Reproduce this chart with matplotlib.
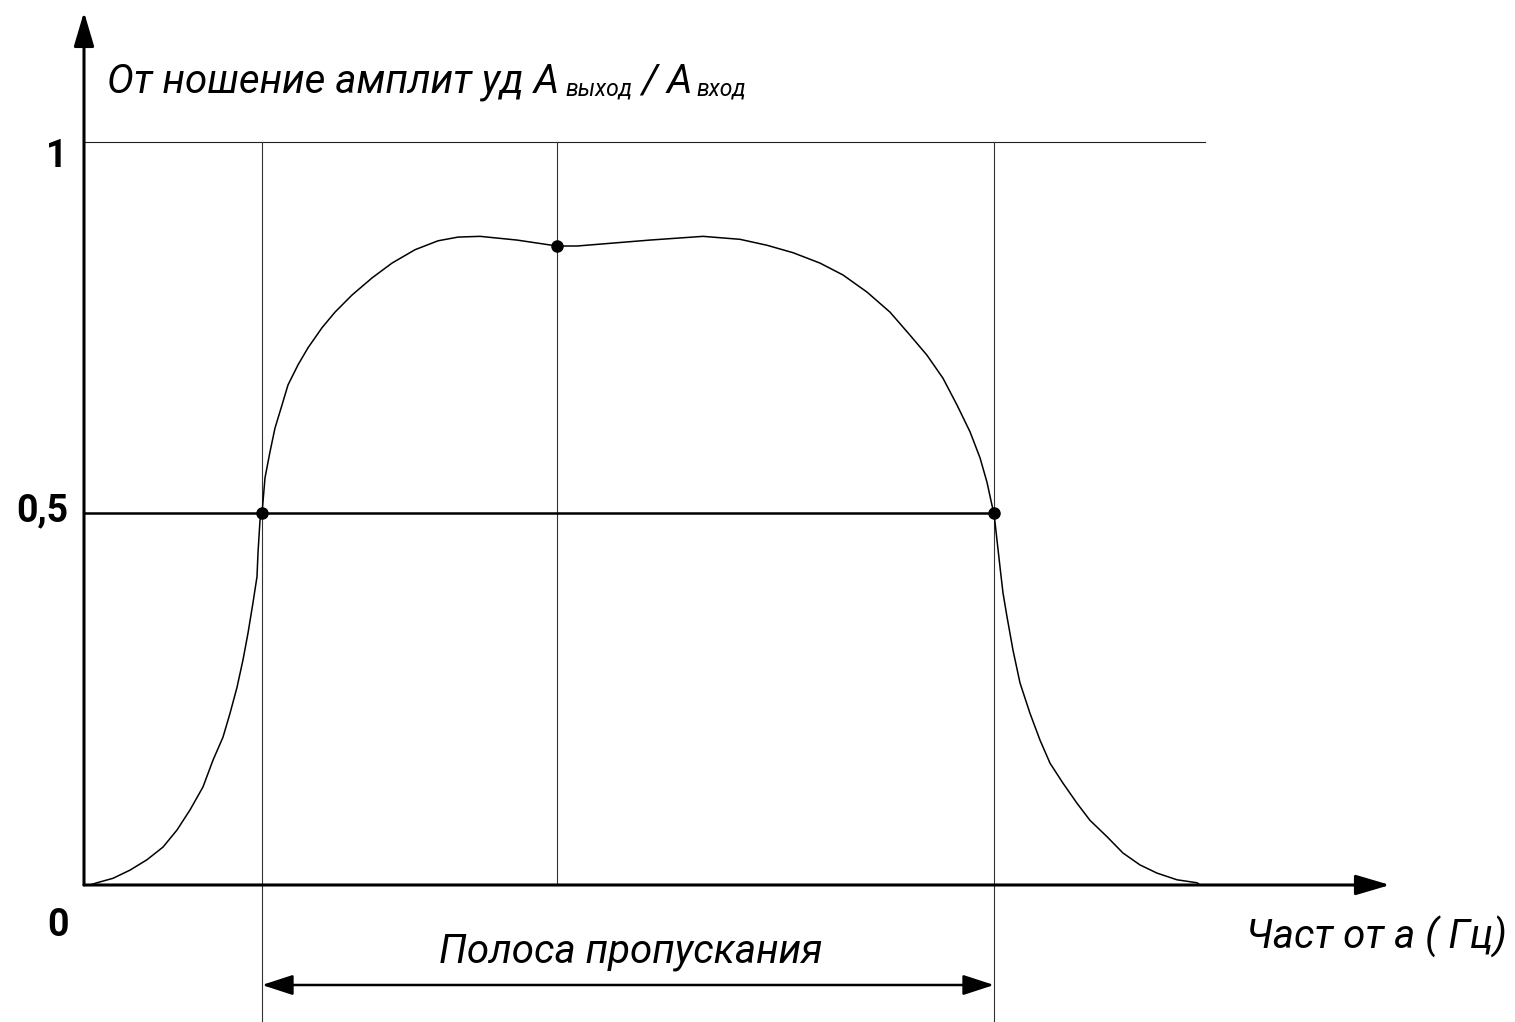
import numpy as np
import matplotlib
matplotlib.use("Agg")
import matplotlib.pyplot as plt

plt.rcParams['font.family'] = ['Roboto', 'DejaVu Sans']

# frequency response (arbitrary frequency units)
freq = [0.06, 0.13, 0.29, 0.46, 0.63, 0.79, 0.93, 1.06, 1.19, 1.29, 1.39, 1.46,
        1.53, 1.59, 1.64, 1.69, 1.73, 1.74, 1.76, 1.78, 1.81, 1.86, 1.91, 1.98,
        2.04, 2.14, 2.24, 2.38, 2.51, 2.68, 2.88, 3.08, 3.31, 3.54, 3.74, 3.96,
        4.33, 4.73, 4.93, 5.66, 6.19, 6.56, 6.83, 7.09, 7.36, 7.59, 7.83, 8.06,
        8.26, 8.43, 8.59, 8.73, 8.86, 8.96, 9.03, 9.08, 9.10, 9.13, 9.16, 9.19,
        9.23, 9.29, 9.36, 9.46, 9.56, 9.66, 9.79, 9.93, 10.06, 10.23, 10.39, 10.56,
        10.73, 10.93, 11.13, 11.16]
ratio = [0.000, 0.003, 0.009, 0.020, 0.034, 0.051, 0.074, 0.101, 0.132, 0.168, 0.199, 0.231,
         0.266, 0.303, 0.339, 0.380, 0.415, 0.447, 0.491, 0.500, 0.548, 0.583, 0.615, 0.646,
         0.673, 0.700, 0.723, 0.750, 0.771, 0.794, 0.817, 0.837, 0.855, 0.867, 0.872, 0.873,
         0.868, 0.860, 0.860, 0.868, 0.873, 0.869, 0.861, 0.851, 0.837, 0.821, 0.798, 0.771,
         0.740, 0.713, 0.682, 0.646, 0.610, 0.575, 0.542, 0.511, 0.500, 0.464, 0.428, 0.393,
         0.361, 0.316, 0.272, 0.231, 0.195, 0.164, 0.137, 0.110, 0.087, 0.065, 0.043, 0.027,
         0.016, 0.007, 0.003, 0.000]

f_low, f_mid, f_high = 1.78, 4.73, 9.10
mid_ratio = 0.860
f_end = 11.21
y_ticks = [0, 0.5, 1]
y_tick_labels = ['0', '0,5', '1']

fig = plt.figure(figsize=(15.15, 10.22), dpi=100)
ax = fig.add_axes([0, 0, 1, 1])
ax.set_xlim(-0.84, 14.31)
ax.set_ylim(-0.1844, 1.1911)
ax.axis('off')

# guide lines
ax.plot([0, f_end], [1, 1], color='#222222', lw=0.8)
ax.plot([f_low, f_low], [1, -0.1844], color='#333333', lw=0.8)
ax.plot([f_mid, f_mid], [1, 0], color='#333333', lw=0.8)
ax.plot([f_high, f_high], [1, -0.1844], color='#333333', lw=0.8)
ax.plot([0, f_high], [0.5, 0.5], color='k', lw=1.8)

# response curve
ax.plot(freq, ratio, color='k', lw=1.1, solid_joinstyle='round')
ax.plot([f_low, f_mid, f_high], [0.5, mid_ratio, 0.5], 'o', color='k', ms=8)

# axes with arrows
arrow = dict(arrowstyle='-|>,head_length=2.1,head_width=0.62', color='k',
             lw=2.2, shrinkA=0, shrinkB=0)
ax.annotate('', xy=(0, 1.175), xytext=(0, 0), arrowprops=arrow)
ax.annotate('', xy=(13.06, 0), xytext=(0, 0), arrowprops=arrow)

# bandwidth arrow
band = dict(arrowstyle='<|-|>,head_length=1.9,head_width=0.62', color='k',
            lw=1.8, shrinkA=0, shrinkB=0)
ax.annotate('', xy=(f_high, -0.1346), xytext=(f_low, -0.1346), arrowprops=band)

# tick labels
tick_x = {'0': -0.26, '0,5': -0.42, '1': -0.27}
tick_y = {'0': -0.054, '0,5': 0.503, '1': 0.98}
for lab in y_tick_labels:
    ax.text(tick_x[lab], tick_y[lab], lab, ha='center', va='center',
            fontsize=27, fontweight='bold')

# y axis title, placed piece by piece
renderer = fig.canvas.get_renderer()
inv = ax.transData.inverted()
pieces = [('От ношение амплит уд A', 29, 1.067, 0),
          ('выход', 16.5, 1.062, 6),
          ('/ A', 29, 1.067, 9),
          ('вход', 16.5, 1.062, 4)]
x0 = 0.23
for txt, size, yy, gap in pieces:
    xpix = ax.transData.transform((x0, 0))[0] + gap
    xx = inv.transform((xpix, 0))[0]
    t = ax.text(xx, yy, txt, fontsize=size, style='italic', ha='left', va='baseline')
    bb = t.get_window_extent(renderer)
    x0 = inv.transform((bb.x1, 0))[0]

ax.text(14.23, -0.07, 'Част от а ( Гц)', fontsize=29, style='italic',
        ha='right', va='center')
ax.text(5.47, -0.09, 'Полоса пропускания', fontsize=29, style='italic',
        ha='center', va='center')

fig.savefig('out.png', dpi=100, facecolor='w')
